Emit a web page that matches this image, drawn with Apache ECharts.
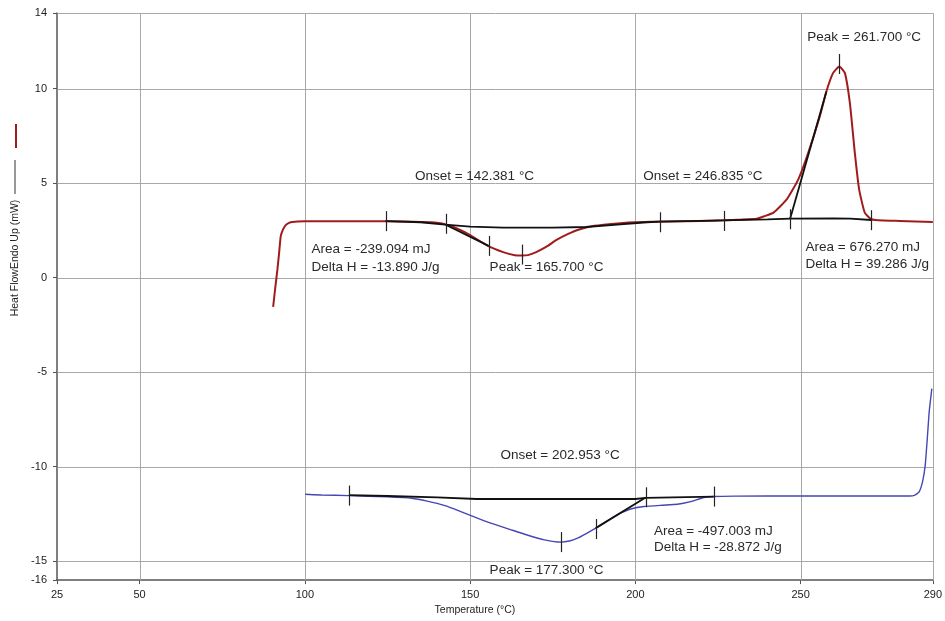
<!DOCTYPE html>
<html><head><meta charset="utf-8">
<script src="https://cdn.jsdelivr.net/npm/echarts@6/dist/echarts.min.js"></script>
<style>html,body{margin:0;padding:0;background:#fff}#c{width:945px;height:621px}</style>
</head><body><div id="c"></div>
<script>
// ---- axis ticks / gridlines ----
const xTickValues = [25, 50, 100, 150, 200, 250, 290];
const yTickValues = [-16, -15, -10, -5, 0, 5, 10, 14];
const xGridValues = [50, 100, 150, 200, 250, 290];
const yGridValues = [-15, -10, -5, 0, 5, 10, 14];

// ---- curves (Temperature °C, Heat flow mW) ----
const redCurve = [
  [90.4,-1.55],[91.0,-0.6],[91.7,0.45],[92.2,1.3],[92.7,2.2],[93.4,2.55],[94.2,2.78],[95.2,2.9],[96.2,2.95],
  [100,2.98],[110,2.99],[120,2.99],[130,2.97],[138,2.93],[142.4,2.83],[146,2.6],[150,2.25],[155.4,1.68],
  [160,1.35],[163.5,1.19],[165.7,1.17],[167.5,1.19],[170,1.35],[173.5,1.68],[176,1.98],[179.5,2.3],[183,2.55],
  [187.6,2.74],[195.5,2.88],[200,2.93],[210,2.97],[220,3.0],[226.7,3.03],[232,3.07],[236.7,3.12],[239,3.25],
  [241.8,3.44],[245.8,4.14],[249.3,5.2],[252.3,6.6],[255.8,8.53],[257.8,9.85],[259.8,10.82],[261.7,11.17],
  [263.4,10.82],[264.9,9.24],[266.4,6.6],[267.7,4.67],[269.4,3.44],[271.4,3.09],[275,3.02],[280,3.0],[290,2.95]
];
const blueCurve = [
  [100.1,-11.46],[105,-11.5],[113.3,-11.53],[125,-11.6],[132.3,-11.67],[137,-11.82],[142.4,-12.06],[147,-12.36],
  [152.4,-12.73],[157,-13.03],[162.4,-13.34],[167,-13.6],[172.5,-13.87],[177.5,-13.99],[180,-13.93],[182.5,-13.78],
  [185,-13.55],[188,-13.25],[191,-12.92],[193.6,-12.64],[196,-12.42],[198.6,-12.24],[202.6,-12.11],[208,-12.04],
  [212.7,-11.99],[216.7,-11.85],[220.7,-11.63],[223.7,-11.58],[230,-11.56],[250,-11.55],[270,-11.55],[283,-11.55],
  [284.4,-11.52],[285.8,-11.35],[286.9,-10.79],[287.7,-9.92],[288.4,-8.33],[288.9,-7.1],[289.7,-5.87]
];
// ---- analysis baselines ----
const baselineA = [[124.4,2.99],[135,2.93],[142.4,2.8],[150,2.7],[160,2.65],[175,2.65],[185,2.68],[195.5,2.82],[203.5,2.93],[207.4,2.96],[226.7,3.03]];
const baselineB = [[226.7,3.03],[240,3.08],[247,3.12],[260,3.13],[265,3.12],[271.4,3.05]];
const baselineC = [[113.3,-11.5],[125,-11.55],[140,-11.62],[152,-11.71],[200,-11.71],[203.1,-11.65],[223.7,-11.58]];
// ---- onset tangents ----
const tangentA = [[142.6,2.8],[155.6,1.68]];
const tangentB = [[246.8,3.1],[257.8,9.85]];
const tangentC = [[188.0,-13.25],[203.1,-11.63]];
// ---- event markers (limits / peaks) ----
const markerPoints = [
  [124.4,2.99],[142.6,2.85],[155.6,1.68],[165.7,1.22],[207.4,2.93],[226.7,3.0],[246.8,3.09],[261.7,11.3],[271.4,3.04],
  [113.3,-11.53],[177.5,-13.99],[188,-13.3],[203.1,-11.62],[223.7,-11.58]
];
// ---- annotation texts ----
const annotationTexts = [
  'Onset = 142.381 °C','Area = -239.094 mJ','Delta H = -13.890 J/g','Peak = 165.700 °C',
  'Onset = 246.835 °C','Peak = 261.700 °C','Area = 676.270 mJ','Delta H = 39.286 J/g',
  'Onset = 202.953 °C','Area = -497.003 mJ','Delta H = -28.872 J/g','Peak = 177.300 °C'
];
// layout anchors (left-middle of each text, in data coordinates)
const annotationAnchors = [
  [133.3,5.36],[102.0,1.51],[102.0,0.54],[155.9,0.54],
  [202.4,5.37],[252.0,12.72],[251.5,1.58],[251.5,0.72],
  [159.2,-9.42],[205.6,-13.43],[205.6,-14.27],[155.9,-15.5]
];

const X_MIN = 25, X_MAX = 290, Y_MIN = -16, Y_MAX = 14;
const FONT = '"Liberation Sans", Arial, sans-serif';

const chart = echarts.init(document.getElementById('c'), null, {renderer: 'canvas'});

const gridData = xGridValues.map(v => [0, v]).concat(yGridValues.map(v => [1, v]));

function lineSeries(data, color, width, z, smooth) {
  return {type: 'line', data, showSymbol: false, symbol: 'none', silent: true, z,
    smooth: smooth || false,
    lineStyle: {color, width}, animation: false};
}

const option = {
  animation: false,
  backgroundColor: '#fff',
  grid: {left: 57, right: 8, top: 13, bottom: 39, containLabel: false},
  xAxis: {
    type: 'value', min: X_MIN, max: X_MAX,
    axisLine: {show: true, onZero: false, lineStyle: {color: '#555', width: 1.5}},
    axisTick: {show: true, customValues: xTickValues, length: 4, lineStyle: {color: '#555'}},
    axisLabel: {customValues: xTickValues, color: '#222', fontSize: 11, fontFamily: FONT, margin: 9},
    splitLine: {show: false},
    name: 'Temperature (°C)', nameLocation: 'middle', nameGap: 23,
    nameTextStyle: {color: '#222', fontSize: 10.5, fontFamily: FONT, padding: [0, 40, 0, 0]}
  },
  yAxis: {
    type: 'value', min: Y_MIN, max: Y_MAX,
    axisLine: {show: true, onZero: false, lineStyle: {color: '#555', width: 1.5}},
    axisTick: {show: true, customValues: yTickValues, length: 4, lineStyle: {color: '#555'}},
    axisLabel: {customValues: yTickValues, color: '#222', fontSize: 11, fontFamily: FONT, margin: 10},
    splitLine: {show: false}
  },
  series: [
    {
      type: 'custom', coordinateSystem: 'cartesian2d', data: gridData, silent: true, z: 1, clip: false,
      renderItem: function (params, api) {
        const dir = api.value(0), v = api.value(1);
        let p1, p2;
        if (dir === 0) { p1 = api.coord([v, Y_MIN]); p2 = api.coord([v, Y_MAX]); }
        else { p1 = api.coord([X_MIN, v]); p2 = api.coord([X_MAX, v]); }
        const r = (a) => Math.round(a) + 0.5;
        return {type: 'line', shape: {x1: r(p1[0]), y1: r(p1[1]), x2: r(p2[0]), y2: r(p2[1])},
          style: {stroke: '#a8a8a8', lineWidth: 1}};
      }
    },
    lineSeries(redCurve, '#a01c1c', 2, 3, 0.15),
    lineSeries(blueCurve, '#4646b4', 1.4, 3, 0.15),
    lineSeries(baselineA, '#111', 1.8, 4),
    lineSeries(baselineB, '#111', 1.8, 4),
    lineSeries(baselineC, '#111', 1.8, 4),
    lineSeries(tangentA, '#111', 1.8, 4),
    lineSeries(tangentB, '#111', 1.8, 4),
    lineSeries(tangentC, '#111', 1.8, 4),
    {
      type: 'custom', coordinateSystem: 'cartesian2d', data: markerPoints, silent: true, z: 5,
      renderItem: function (params, api) {
        const p = api.coord([api.value(0), api.value(1)]);
        const x = Math.round(p[0]) + 0.5;
        return {type: 'line', shape: {x1: x, y1: p[1] - 10, x2: x, y2: p[1] + 10},
          style: {stroke: '#222', lineWidth: 1.2}};
      }
    }
  ]
};
chart.setOption(option);

const graphics = annotationTexts.map((t, i) => {
  const p = chart.convertToPixel({gridIndex: 0}, annotationAnchors[i]);
  return {type: 'text', x: p[0], y: p[1], z: 10, silent: true,
    style: {text: t, fill: '#2a2a2a', font: '13.5px ' + FONT, align: 'left', verticalAlign: 'middle'}};
});
// y-axis title with its legend swatches
graphics.push({type: 'text', x: 15, y: 258, rotation: Math.PI / 2, z: 10, silent: true,
  style: {text: 'Heat FlowEndo Up (mW)', fill: '#222', font: '10.5px ' + FONT, align: 'center', verticalAlign: 'middle'}});
graphics.push({type: 'line', z: 10, silent: true, shape: {x1: 15, y1: 160, x2: 15, y2: 194}, style: {stroke: '#333', lineWidth: 1}});
graphics.push({type: 'line', z: 10, silent: true, shape: {x1: 16, y1: 124, x2: 16, y2: 148}, style: {stroke: '#a01c1c', lineWidth: 2}});
chart.setOption({graphic: graphics});
</script>
</body></html>
